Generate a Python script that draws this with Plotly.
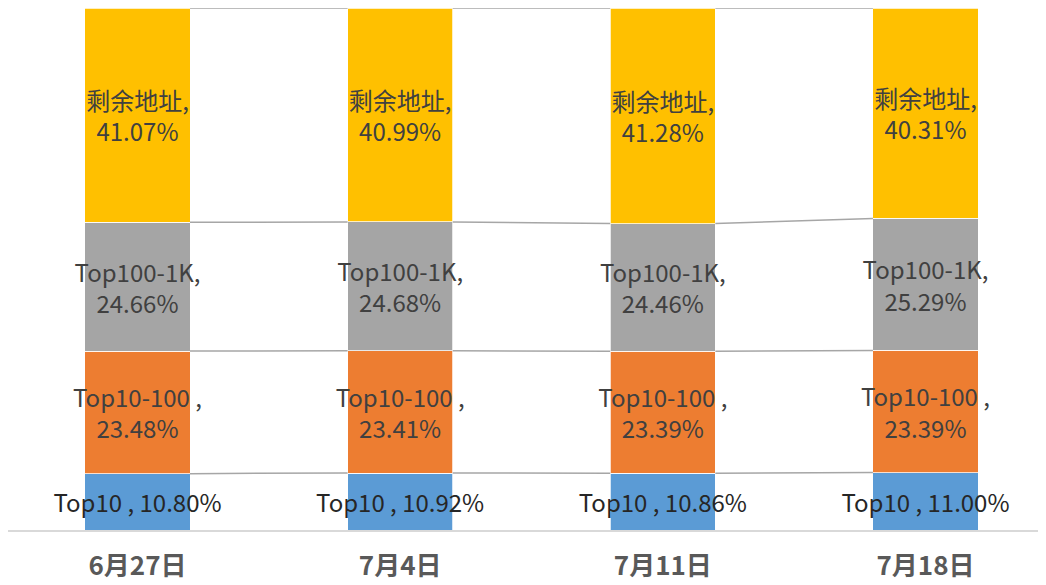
import plotly.graph_objects as go
import numpy as np

dates = ["6月27日", "7月4日", "7月11日", "7月18日"]
series_names = ["Top10", "Top10-100", "Top100-1K", "剩余地址"]
label_prefix = ["Top10 , ", "Top10-100 ,<br>", "Top100-1K,<br>", "剩余地址,<br>"]
top10 = [10.80, 10.92, 10.86, 11.00]
top10_100 = [23.48, 23.41, 23.39, 23.39]
top100_1k = [24.66, 24.68, 24.46, 25.29]
rest = [41.07, 40.99, 41.28, 40.31]
colors = ["#5B9BD5", "#ED7D31", "#A5A5A5", "#FFC000"]
text_colors = ["#262626", "#404040", "#404040", "#404040"]

values = [top10, top10_100, top100_1k, rest]
x = np.arange(len(dates))
bar_w = 0.4

arr = np.array(values)
norm = arr / arr.sum(axis=0) * 100
cum = np.cumsum(norm, axis=0)

fig = go.Figure()

# series lines between bars (Excel style)
for level in cum:
    for i in range(len(dates) - 1):
        fig.add_trace(go.Scatter(
            x=[x[i] + bar_w / 2, x[i + 1] - bar_w / 2],
            y=[level[i], level[i + 1]],
            mode="lines",
            line=dict(color="#A6A6A6", width=1.5),
            hoverinfo="skip",
            showlegend=False,
        ))

for name, pre, vals, nv, col, tc in zip(series_names, label_prefix, values, norm, colors, text_colors):
    fig.add_trace(go.Bar(
        x=x,
        y=nv,
        name=name,
        width=bar_w,
        marker=dict(color=col, line=dict(color="white", width=0.75)),
        text=[f"{pre}{v:.2f}%" for v in vals],
        textposition="inside",
        insidetextanchor="middle",
        textangle=0,
        constraintext="none",
        cliponaxis=False,
        textfont=dict(family="Noto Sans CJK SC", size=24, color=tc),
        showlegend=False,
    ))

# the page adds an 8px body margin, so the figure is sized to fit inside it
fig.update_layout(
    barmode="stack",
    width=1038,
    height=577,
    margin=dict(l=0, r=6, t=0, b=55, autoexpand=False),
    plot_bgcolor="white",
    paper_bgcolor="white",
    font=dict(family="Noto Sans CJK SC"),
    xaxis=dict(
        range=[-0.493, 3.436],
        tickvals=list(x),
        ticktext=dates,
        showgrid=False,
        zeroline=False,
        showline=True,
        linecolor="#D9D9D9",
        linewidth=1.5,
        ticks="",
        automargin=False,
        ticklabelstandoff=12,
        tickfont=dict(family="Noto Sans CJK SC", size=26, color="#595959", weight="bold"),
    ),
    yaxis=dict(
        range=[0, 100],
        showgrid=False,
        zeroline=False,
        showticklabels=False,
        showline=False,
        automargin=False,
    ),
)

fig.write_html("out.html")
